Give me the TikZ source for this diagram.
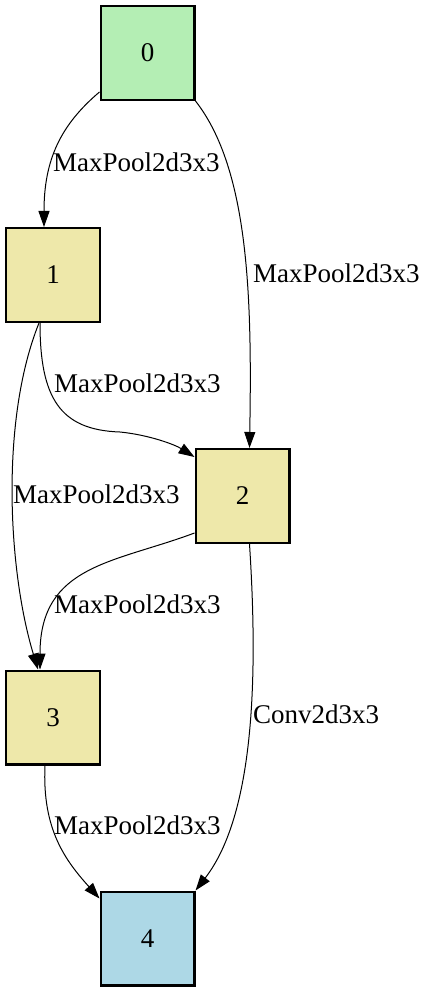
\documentclass[tikz,border=0pt]{standalone}
\usepackage{fontspec}
\setmainfont{Liberation Serif}
\usetikzlibrary{calc,arrows.meta}
\definecolor{nodegreen}{HTML}{B4EEB4}
\definecolor{nodegold}{HTML}{EEE8AA}
\definecolor{nodeblue}{HTML}{ADD8E6}
\begin{document}
\begin{tikzpicture}[x=1pt,y=-1pt,
  op/.style={draw,line width=2.4pt,minimum size=93.6pt,inner sep=0pt,font=\fontsize{27}{32}\selectfont},
  lbl/.style={anchor=base west,inner sep=0pt,font=\fontsize{27}{32}\selectfont},
  edge/.style={draw,line width=1pt,-{Triangle[length=16pt,width=11pt]}}]
\useasboundingbox (0,0) rectangle (428,992);
\node [op,fill=nodegreen] (n0) at (147.5,53) {0};
\node [op,fill=nodegold] (n1) at (53,275) {1};
\node [op,fill=nodegold] (n2) at (242.5,496) {2};
\node [op,fill=nodegold] (n3) at (53,717.5) {3};
\node [op,fill=nodeblue] (n4) at (147.5,938.5) {4};
% edges
\path [edge] ($(n0.south west)+(0,-9)$) .. controls +(-39,33) and +(0,-67) .. ($(n1.north)+(-9,0)$);
\path [edge] (n0.south east) .. controls +(54,69) and +(2.5,-148) .. ($(n2.north)+(7,0)$);
\path [edge] ($(n1.south)+(-13,0)$) .. controls +(0,75) and +(-60,-2) .. (120,432)
  .. controls +(30,3) and +(-19,-12) .. ($(n2.north west)+(0,9)$);
\path [edge] ($(n1.south)+(-14,0)$) .. controls +(-39,97) and +(-30,-99) .. ($(n3.north)+(-15,0)$);
\path [edge] ($(n2.south west)+(0,-11)$) .. controls +(-80,30) and +(0,-105) .. ($(n3.north)+(-13,0)$);
\path [edge] ($(n2.south)+(7,0)$) .. controls +(7.5,116) and +(62,-80) .. (n4.north east);
\path [edge] ($(n3.south)+(-8,0)$) .. controls +(-3,64) and +(-34,-38) .. ($(n4.north west)+(0,8)$);
% labels
\node [lbl] (l01) at (53,172) {MaxPool2d3x3};
\node [lbl] (l02) at (253,282) {MaxPool2d3x3};
\node [lbl] (l12) at (54,392) {MaxPool2d3x3};
\node [lbl] (l13) at (13,503) {MaxPool2d3x3};
\node [lbl] (l23) at (54,613) {MaxPool2d3x3};
\node [lbl] (l24) at (253,723) {Conv2d3x3};
\node [lbl] (l34) at (54,834) {MaxPool2d3x3};
\end{tikzpicture}
\end{document}
